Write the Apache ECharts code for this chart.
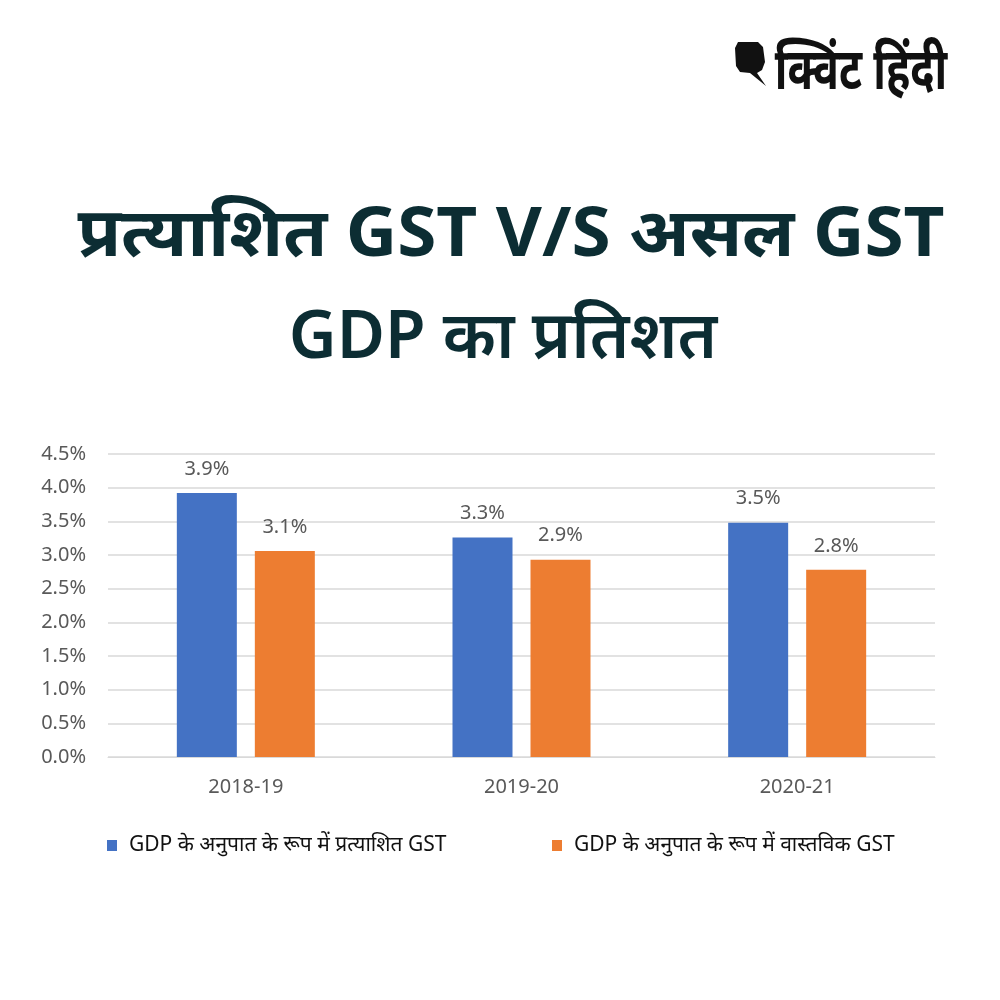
<!DOCTYPE html>
<html><head><meta charset="utf-8">
<script src="https://cdn.jsdelivr.net/npm/echarts@6/dist/echarts.min.js"></script>
<style>html,body{margin:0;padding:0;background:#fff;}#c{width:1000px;height:1000px;}</style>
</head><body><div id="c"></div>
<script>
const categories = ['2018-19', '2019-20', '2020-21'];
const expectedGST = [3.92, 3.26, 3.48];
const actualGST = [3.06, 2.93, 2.78];
const seriesNames = ['GDP के अनुपात के रूप में प्रत्याशित GST', 'GDP के अनुपात के रूप में वास्तविक GST'];
const titleLine1 = 'प्रत्याशित GST V/S असल GST';
const titleLine2 = 'GDP का प्रतिशत';
const brand = 'क्विंट हिंदी';

const font = '"Noto Sans", "Open Sans", sans-serif';
const chart = echarts.init(document.getElementById('c'), null, {renderer: 'canvas'});
const legendText = {fontFamily: font, fontSize: 21, color: '#111', padding: [0, 0, 0, 7]};
chart.setOption({
  backgroundColor: '#ffffff',
  animation: false,
  graphic: [
    {type: 'text', x: 511, y: 237, scaleX: 1.045,
     style: {text: titleLine1, font: 'bold 68px ' + font, fill: '#0c2d33', textAlign: 'center', textVerticalAlign: 'middle'}},
    {type: 'text', x: 503, y: 339,
     style: {text: titleLine2, font: '600 66px ' + font, fill: '#0c2d33', textAlign: 'center', textVerticalAlign: 'middle'}},
    {type: 'text', x: 861, y: 72, scaleY: 1.35,
     style: {text: brand, font: 'bold 43px ' + font, fill: '#111', textAlign: 'center', textVerticalAlign: 'middle'}},
    {type: 'polygon', shape: {points: [[738,42],[758,42],[763,47],[765,62],[762,70],[757,73],[766,86],[750,73],[740,72],[736,66],[735,48]]}, style: {fill: '#111'}}
  ],
  legend: [
    {top: 830, left: 102, itemWidth: 10, itemHeight: 11, icon: 'rect',
     textStyle: legendText, data: [seriesNames[0]]},
    {top: 830, left: 547, itemWidth: 10, itemHeight: 11, icon: 'rect',
     textStyle: legendText, data: [seriesNames[1]]}
  ],
  grid: {left: 108, right: 65, top: 454, bottom: 243, containLabel: false},
  xAxis: {
    type: 'category', data: categories,
    axisLine: {show: true, lineStyle: {color: '#d9d9d9'}},
    axisTick: {show: false},
    axisLabel: {fontFamily: font, fontSize: 20, color: '#595959', margin: 20}
  },
  yAxis: {
    type: 'value', min: 0, max: 4.5, interval: 0.5,
    axisLine: {show: false}, axisTick: {show: false},
    splitLine: {lineStyle: {color: '#d9d9d9', width: 1.5}},
    axisLabel: {fontFamily: font, fontSize: 20, color: '#595959', margin: 22,
      formatter: v => v.toFixed(1) + '%'}
  },
  series: [
    {name: seriesNames[0], type: 'bar', data: expectedGST, barWidth: 60, barGap: '30%',
     itemStyle: {color: '#4472c4'},
     label: {show: true, position: 'top', distance: 14, fontFamily: font, fontSize: 20, color: '#595959',
       formatter: p => p.value.toFixed(1) + '%'}},
    {name: seriesNames[1], type: 'bar', data: actualGST, barWidth: 60,
     itemStyle: {color: '#ed7d31'},
     label: {show: true, position: 'top', distance: 14, fontFamily: font, fontSize: 20, color: '#595959',
       formatter: p => p.value.toFixed(1) + '%'}}
  ]
});
</script></body></html>
